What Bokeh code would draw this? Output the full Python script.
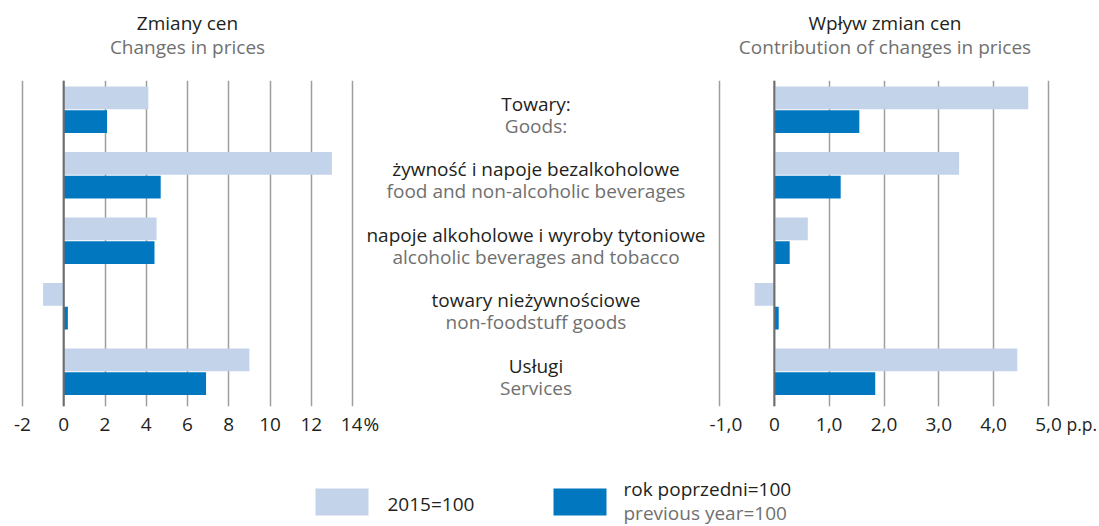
import numpy as np
from bokeh.plotting import figure
from bokeh.layouts import column, row
from bokeh.models import Range1d, FixedTicker, Span
from bokeh.core.properties import value
from bokeh.embed import file_html
from bokeh.resources import INLINE

# ---------------- data ----------------
cats_pl = ["Towary:", "żywność i napoje bezalkoholowe",
           "napoje alkoholowe i wyroby tytoniowe", "towary nieżywnościowe", "Usługi"]
cats_en = ["Goods:", "food and non-alcoholic beverages",
           "alcoholic beverages and tobacco", "non-foodstuff goods", "Services"]
price_2015 = [4.1, 13.0, 4.5, -1.0, 9.0]
price_prev = [2.1, 4.7, 4.4, 0.2, 6.9]
contrib_2015 = [4.63, 3.37, 0.61, -0.36, 4.43]
contrib_prev = [1.55, 1.21, 0.28, 0.08, 1.84]
left_ticks = [-2, 0, 2, 4, 6, 8, 10, 12, 14]
left_tick_labels = ["-2", "0", "2", "4", "6", "8", "10", "12", "14"]
right_ticks = [-1, 0, 1, 2, 3, 4, 5]
right_tick_labels = ["-1,0", "0", "1,0", "2,0", "3,0", "4,0", "5,0"]
left_unit = "%"
right_unit = "p.p."
title_left = ("Zmiany cen", "Changes in prices")
title_right = ("Wpływ zmian cen", "Contribution of changes in prices")
legend_2015 = "2015=100"
legend_prev = ("rok poprzedni=100", "previous year=100")

# ---------------- style ----------------
FONT = "Open Sans"
FS = "19px"
LIGHT = "#C2D3EA"
DARK = "#0077BF"
TXT = "#231F20"
GREY_TXT = "#707070"
GRID = "#9E9E9E"
ZERO = "#6D6D6D"

BAND = 65.5          # px per category
Y_TOP = -0.447       # category coordinate at top of frame
CH_H = 326           # frame height of the charts
ROW_H = 360
Y_BOT = Y_TOP + CH_H / BAND
Y_ROW_BOT = Y_TOP + ROW_H / BAND
Y_UNIT = Y_BOT + 17 / BAND
OFF = 0.18
BAR_H = 0.347

idx = np.arange(len(cats_pl))


def blank(width, height, xr, yr):
    f = figure(width=width, height=height, x_range=xr, y_range=yr,
               x_axis_type=None, y_axis_type=None,
               output_backend="svg", toolbar_location=None, frame_align=False,
               min_border_left=0, min_border_right=0, min_border_top=0, min_border_bottom=0)
    f.grid.visible = False
    f.outline_line_color = None
    return f


def chart(xr, ticks, labels, v1, v2, width, mb_left, mb_right):
    p = figure(width=width, height=ROW_H, x_range=xr, y_range=Range1d(Y_BOT, Y_TOP),
               y_axis_type=None,
               output_backend="svg", toolbar_location=None,
               min_border_left=mb_left, min_border_right=mb_right,
               min_border_top=0, min_border_bottom=ROW_H - CH_H)
    p.outline_line_color = None
    p.ygrid.visible = False
    p.xgrid.ticker = FixedTicker(ticks=ticks)
    p.xgrid.grid_line_color = GRID
    p.xgrid.grid_line_width = 1.5
    ax = p.xaxis[0]
    ax.ticker = FixedTicker(ticks=ticks)
    ax.major_label_overrides = {t: l for t, l in zip(ticks, labels)}
    ax.axis_line_color = None
    ax.major_tick_line_color = None
    ax.minor_tick_line_color = None
    ax.major_tick_out = 0
    ax.major_tick_in = 0
    ax.major_label_standoff = 11
    ax.major_label_text_font = FONT
    ax.major_label_text_font_size = FS
    ax.major_label_text_color = TXT
    p.hbar(y=idx - OFF, left=0, right=v1, height=BAR_H, fill_color=LIGHT, line_color=None)
    p.hbar(y=idx + OFF, left=0, right=v2, height=BAR_H, fill_color=DARK, line_color=None)
    p.add_layout(Span(location=0, dimension="height", line_color=ZERO, line_width=2))
    return p


# left chart: -2 at x=22, 14 at x=352 (page px)
lpx = 330 / 16
left = chart(Range1d(-2 - 10 / lpx, 14 + 10 / lpx), left_ticks, left_tick_labels,
             price_2015, price_prev, 362, 12, 0)

# right chart: -1 at x=719, 5 at x=1048
rpx = 329 / 6
right = chart(Range1d(-1 - 10 / rpx, 5 + 10 / rpx), right_ticks, right_tick_labels,
              contrib_2015, contrib_prev, 354, 0, 5)

# middle labels
MID_W = 347
mid = blank(MID_W, ROW_H, Range1d(0, MID_W), Range1d(Y_ROW_BOT, Y_TOP))
mid.text(x=MID_W / 2, y=idx - 6 / BAND, text=cats_pl, text_font=value(FONT),
         text_font_size=FS, text_color=TXT, text_align="center", text_baseline="middle")
mid.text(x=MID_W / 2, y=idx + 16 / BAND, text=cats_en, text_font=value(FONT),
         text_font_size=FS, text_color=GREY_TXT, text_align="center", text_baseline="middle")
mid.text(x=[1], y=[Y_UNIT], text=[left_unit], text_font=value(FONT),
         text_font_size=FS, text_color=TXT, text_align="left", text_baseline="middle")

# unit of right axis
UNIT_W = 35
unit = blank(UNIT_W, ROW_H, Range1d(0, UNIT_W), Range1d(Y_ROW_BOT, Y_TOP))
unit.text(x=[3], y=[Y_UNIT], text=[right_unit], text_font=value(FONT),
          text_font_size="17.5px", text_color=TXT, text_align="left", text_baseline="middle")

# titles
W = 1098
TOP_H = 80
top = blank(W, TOP_H, Range1d(0, W), Range1d(TOP_H, 0))
for cx, (pl, en) in [(187, title_left), (884.5, title_right)]:
    top.text(x=[cx], y=[22], text=[pl], text_font=value(FONT), text_font_size=FS,
             text_color=TXT, text_align="center", text_baseline="middle")
    top.text(x=[cx], y=[46.5], text=[en], text_font=value(FONT), text_font_size=FS,
             text_color=GREY_TXT, text_align="center", text_baseline="middle")

# legend
LEG_H = 84
leg = blank(W, LEG_H, Range1d(0, W), Range1d(LEG_H, 0))
leg.rect(x=[341.5, 579.5], y=[61.5, 61.5], width=53, height=27,
         fill_color=[LIGHT, DARK], line_color=None)
leg.text(x=[387], y=[63], text=[legend_2015], text_font=value(FONT), text_font_size=FS,
         text_color=TXT, text_align="left", text_baseline="middle")
leg.text(x=[623], y=[48], text=[legend_prev[0]], text_font=value(FONT), text_font_size=FS,
         text_color=TXT, text_align="left", text_baseline="middle")
leg.text(x=[623], y=[72], text=[legend_prev[1]], text_font=value(FONT), text_font_size=FS,
         text_color=GREY_TXT, text_align="left", text_baseline="middle")

layout = column(top, row(left, mid, right, unit), leg)
open("out.html", "w").write(file_html(layout, INLINE))
